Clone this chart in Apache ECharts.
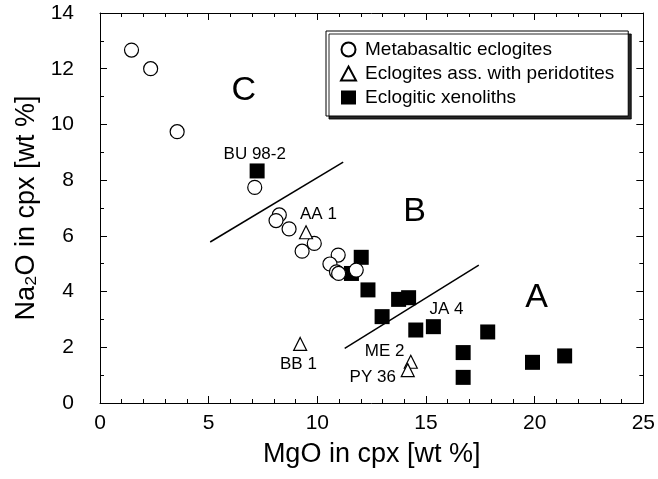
<!DOCTYPE html>
<html>
<head>
<meta charset="utf-8">
<script src="https://cdn.jsdelivr.net/npm/echarts@6/dist/echarts.min.js"></script>
<style>html,body{margin:0;padding:0;background:#fff;}#c{width:658px;height:479px;}</style>
</head>
<body>
<div id="c"></div>
<script>
// --- data ---
const metabasaltic = [[1.45,12.67],[2.33,12.0],[3.55,9.74],[7.12,7.74],[8.25,6.75],[8.1,6.55],[8.7,6.25],[9.86,5.73],[9.3,5.45],[10.96,5.31],[10.58,4.99],[10.88,4.71],[10.98,4.65],[11.79,4.77]];
const peridotiteEclogites = [[9.48,6.13],[9.21,2.12],[14.3,1.48],[14.16,1.18]];
const xenoliths = [[7.23,8.33],[12.02,5.23],[11.57,4.65],[12.33,4.06],[13.74,3.72],[14.2,3.78],[12.98,3.1],[14.53,2.62],[15.34,2.74],[16.71,1.81],[16.71,0.92],[17.84,2.55],[19.9,1.46],[21.38,1.69]];
const boundaryCB = [[5.07,5.78],[11.19,8.65]];
const boundaryBA = [[11.26,1.96],[17.43,4.95]];
const sampleLabels = [
  {name:'BU 98-2', value:[7.12,8.94]},
  {name:'AA 1', value:[10.05,6.78]},
  {name:'JA 4', value:[15.94,3.37]},
  {name:'ME 2', value:[13.1,1.87]},
  {name:'PY 36', value:[12.55,0.93]},
  {name:'BB 1', value:[9.13,1.40]}
];
const fieldLabels = [
  {name:'C', value:[6.62,11.2]},
  {name:'B', value:[14.47,6.86]},
  {name:'A', value:[20.09,3.77]}
];
const xTicks = [0,5,10,15,20,25];
const yTicks = [0,2,4,6,8,10,12,14];

const FONT = 'Liberation Sans, Arial, Helvetica, sans-serif';
const chart = echarts.init(document.getElementById('c'));

function axisBase(extra){
  return Object.assign({
    type:'value',
    axisLine:{show:true, onZero:false, lineStyle:{color:'#000', width:1}},
    axisTick:{show:true, inside:true, length:7, lineStyle:{color:'#000', width:1}},
    splitLine:{show:false},
    minorSplitLine:{show:false}
  }, extra);
}
const xMinor = {show:true, splitNumber:5, length:4, lineStyle:{color:'#000', width:1}};
const yMinor = {show:true, splitNumber:2, length:4, lineStyle:{color:'#000', width:1}};
const labelTxt = {color:'#000', opacity:1, fontFamily:FONT, textBorderWidth:0, textBorderColor:'transparent', textShadowBlur:0};

chart.setOption({
  animation:false,
  backgroundColor:'#fff',
  textStyle:{fontFamily:FONT},
  grid:{left:100, right:13, top:13, bottom:76, containLabel:false},
  legend:{
    orient:'vertical', left:326, top:31,
    padding:[9,14,9,14],
    itemGap:5, itemWidth:15, itemHeight:14,
    backgroundColor:'#fff', borderColor:'#000', borderWidth:1,
    shadowColor:'rgba(0,0,0,0.85)', shadowBlur:0, shadowOffsetX:3, shadowOffsetY:3,
    textStyle:{fontFamily:FONT, fontSize:19, color:'#000', lineHeight:18, padding:[0,0,0,4]},
    data:['Metabasaltic eclogites','Eclogites ass. with peridotites','Eclogitic xenoliths']
  },
  xAxis:[
    axisBase({min:0, max:25, interval:5, minorTick:xMinor,
      axisLabel:{show:true, fontSize:21, color:'#000', margin:10, fontFamily:FONT},
      name:'MgO in cpx [wt %]', nameLocation:'middle', nameGap:38,
      nameTextStyle:{fontSize:27, color:'#000', fontFamily:FONT}}),
    axisBase({position:'top', min:0, max:25, interval:5, minorTick:xMinor, axisLabel:{show:false}})
  ],
  yAxis:[
    axisBase({min:0, max:14, interval:2, minorTick:yMinor,
      axisLabel:{show:true, fontSize:21, color:'#000', margin:26, fontFamily:FONT},
      name:'Na\u2082O in cpx [wt %]', nameLocation:'middle', nameGap:56, nameRotate:90,
      nameTextStyle:{fontSize:27, color:'#000', fontFamily:FONT}}),
    axisBase({position:'right', min:0, max:14, interval:2, minorTick:yMinor, axisLabel:{show:false}})
  ],
  series:[
    {type:'line', data:boundaryCB, showSymbol:false, symbol:'none', lineStyle:{color:'#000', width:1.5}, silent:true, z:1},
    {type:'line', data:boundaryBA, showSymbol:false, symbol:'none', lineStyle:{color:'#000', width:1.5}, silent:true, z:1},
    {name:'Eclogitic xenoliths', type:'scatter', data:xenoliths, symbol:'rect', symbolSize:15,
      itemStyle:{color:'#000', opacity:1}, z:2},
    {name:'Metabasaltic eclogites', type:'scatter', data:metabasaltic, symbol:'circle', symbolSize:14,
      itemStyle:{color:'#fff', borderColor:'#000', borderWidth:1.2, opacity:1}, z:3},
    {name:'Eclogites ass. with peridotites', type:'scatter', data:peridotiteEclogites, symbol:'triangle', symbolSize:13,
      itemStyle:{color:'#fff', borderColor:'#000', borderWidth:1.2, opacity:1}, z:4},
    {type:'scatter', data:sampleLabels, symbolSize:0, silent:true, z:5, itemStyle:{opacity:1, color:'#000'},
      label:Object.assign({show:true, position:'inside', formatter:'{b}', fontSize:17}, labelTxt)},
    {type:'scatter', data:fieldLabels, symbolSize:0, silent:true, z:5, itemStyle:{opacity:1, color:'#000'},
      label:Object.assign({show:true, position:'inside', formatter:'{b}', fontSize:34}, labelTxt)}
  ]
});
</script>
</body>
</html>
